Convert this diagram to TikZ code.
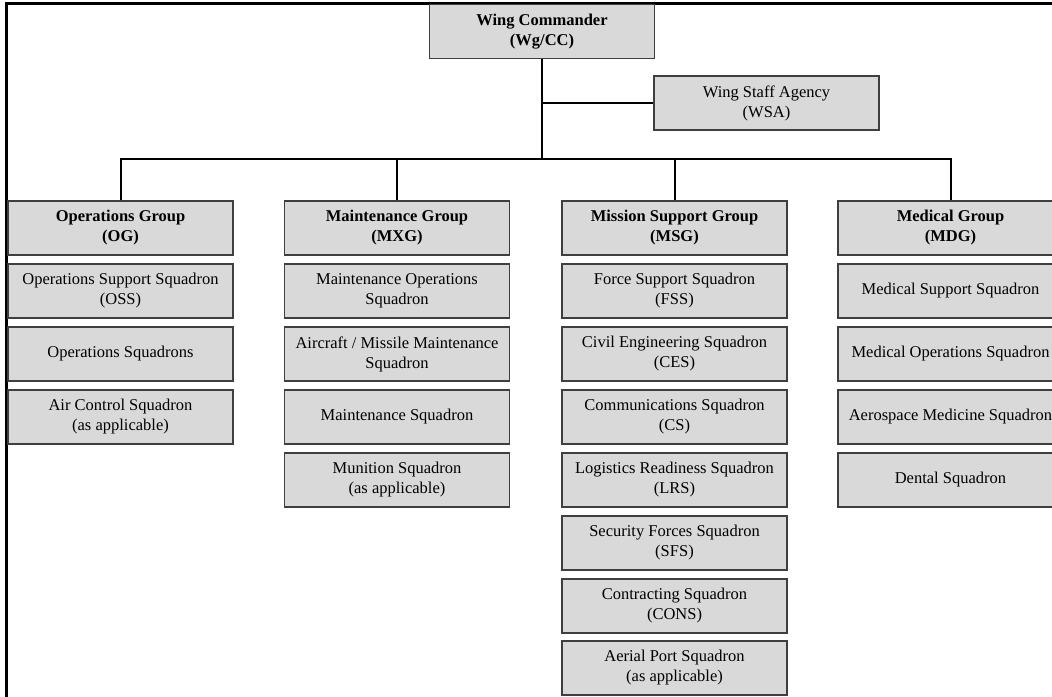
\documentclass[tikz,border=0pt]{standalone}
\usepackage{fontspec}
\setmainfont{Liberation Serif}
\definecolor{boxfill}{HTML}{D9D9D9}
\definecolor{boxline}{HTML}{3F3F3F}
\tikzset{
  orgbox/.style={draw=boxline, fill=boxfill, line width=1.5pt, minimum width=225pt, minimum height=54pt,
    inner sep=0pt, align=center, font=\fontsize{16.5}{20}\selectfont},
  grpbox/.style={orgbox, font=\fontsize{16.5}{20}\selectfont\bfseries},
  link/.style={draw=black, line width=2pt}
}
\begin{document}
\begin{tikzpicture}[x=1pt,y=-1pt]
\clip (0,0) rectangle (1052,696);
\fill[white] (0,0) rectangle (1052,696);
% frame
\draw[line width=2.5pt] (6.5,720) -- (6.5,3.5) -- (1080,3.5);
% top
\node[grpbox] (wc) at (542,31.5) {Wing Commander\\(Wg/CC)};
\node[orgbox] (wsa) at (766.5,103) {Wing Staff Agency\\(WSA)};
% groups
\node[grpbox] (og)  at (120.5,228) {Operations Group\\(OG)};
\node[grpbox] (mxg) at (397,228) {Maintenance Group\\(MXG)};
\node[grpbox] (msg) at (674.5,228) {Mission Support Group\\(MSG)};
\node[grpbox] (mdg) at (950.5,228) {Medical Group\\(MDG)};
% OG squadrons
\node[orgbox] (og1) at (120.5,291) {Operations Support Squadron\\(OSS)};
\node[orgbox] (og2) at (120.5,354) {Operations Squadrons};
\node[orgbox] (og3) at (120.5,417) {Air Control Squadron\\(as applicable)};
% MXG squadrons
\node[orgbox] (mx1) at (397,291) {Maintenance Operations\\Squadron};
\node[orgbox] (mx2) at (397,354) {Aircraft / Missile Maintenance\\Squadron};
\node[orgbox] (mx3) at (397,417) {Maintenance Squadron};
\node[orgbox] (mx4) at (397,480) {Munition Squadron\\(as applicable)};
% MSG squadrons
\node[orgbox] (ms1) at (674.5,291) {Force Support Squadron\\(FSS)};
\node[orgbox] (ms2) at (674.5,354) {Civil Engineering Squadron\\(CES)};
\node[orgbox] (ms3) at (674.5,417) {Communications Squadron\\(CS)};
\node[orgbox] (ms4) at (674.5,480) {Logistics Readiness Squadron\\(LRS)};
\node[orgbox] (ms5) at (674.5,543) {Security Forces Squadron\\(SFS)};
\node[orgbox] (ms6) at (674.5,606) {Contracting Squadron\\(CONS)};
\node[orgbox] (ms7) at (674.5,668) {Aerial Port Squadron\\(as applicable)};
% MDG squadrons
\node[orgbox] (md1) at (950.5,291) {Medical Support Squadron};
\node[orgbox] (md2) at (950.5,354) {Medical Operations Squadron};
\node[orgbox] (md3) at (950.5,417) {Aerospace Medicine Squadron};
\node[orgbox] (md4) at (950.5,480) {Dental Squadron};
% connectors
\coordinate (bar) at (542,159);
\coordinate (wsaj) at (wc.south |- wsa.west);
\draw[link] (wc.south) -- (bar);
\draw[link] (wsaj) -- (wsa.west);
\draw[link] (og.north) -- (og.north |- bar) -- (mdg.north |- bar) -- (mdg.north);
\draw[link] (mxg.north) -- (mxg.north |- bar);
\draw[link] (msg.north) -- (msg.north |- bar);
\end{tikzpicture}
\end{document}
